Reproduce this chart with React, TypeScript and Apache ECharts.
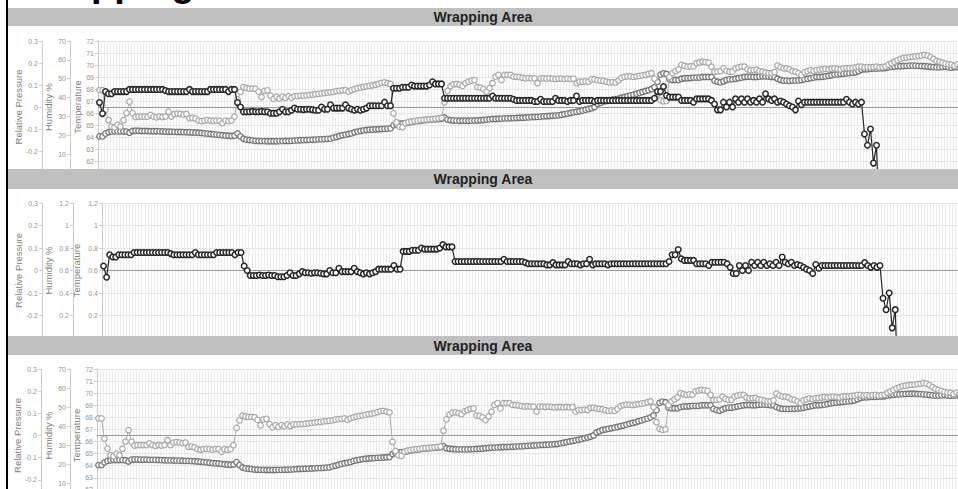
import React, { useEffect, useRef } from "react";
import * as echarts from "echarts";

// ---------- data ----------
const pageTitle = "Wrapping Area";
const panelTitles = ["Wrapping Area", "Wrapping Area", "Wrapping Area"];
const axisNames = { pressure: "Relative Pressure", humidity: "Humidity %", temperature: "Temperature" };

const temperature: number[] = [
  64.05, 64.05, 64.28, 64.4, 64.45, 64.47, 64.47, 64.47, 64.46, 64.45,
  64.35, 64.5, 64.52, 64.52, 64.5, 64.5, 64.5, 64.48, 64.48, 64.48,
  64.47, 64.46, 64.45, 64.44, 64.44, 64.43, 64.42, 64.42, 64.41, 64.4,
  64.4, 64.38, 64.37, 64.35, 64.33, 64.3, 64.28, 64.25, 64.22, 64.2,
  64.18, 64.15, 64.12, 64.1, 64.08, 64.1, 64.3, 64.05, 63.85, 63.78,
  63.75, 63.72, 63.68, 63.67, 63.66, 63.66, 63.65, 63.65, 63.65, 63.65,
  63.66, 63.66, 63.67, 63.67, 63.68, 63.7, 63.72, 63.73, 63.74, 63.75,
  63.76, 63.77, 63.78, 63.8, 63.8, 63.82, 63.84, 63.86, 63.95, 64.0,
  64.08, 64.15, 64.2, 64.25, 64.3, 64.4, 64.45, 64.5, 64.55, 64.58,
  64.6, 64.62, 64.63, 64.65, 64.67, 64.68, 64.7, 64.72, 64.97, 65.05,
  65.1, 65.12, 65.15, 65.2, 65.25, 65.3, 65.33, 65.35, 65.4, 65.42,
  65.45, 65.47, 65.48, 65.5, 65.52, 65.62, 65.45, 65.4, 65.38, 65.36,
  65.35, 65.35, 65.35, 65.35, 65.36, 65.37, 65.38, 65.4, 65.42, 65.45,
  65.47, 65.5, 65.5, 65.52, 65.53, 65.55, 65.55, 65.56, 65.57, 65.58,
  65.6, 65.6, 65.62, 65.64, 65.66, 65.67, 65.68, 65.7, 65.72, 65.73,
  65.75, 65.77, 65.78, 65.8, 65.85, 65.9, 65.95, 66.0, 66.05, 66.1,
  66.15, 66.2, 66.27, 66.33, 66.4, 66.5, 66.75, 66.85, 66.95, 67.0,
  67.05, 67.1, 67.15, 67.2, 67.27, 67.33, 67.4, 67.47, 67.53, 67.6,
  67.68, 67.75, 67.83, 67.9, 68.0, 68.15, 68.6, 69.2, 69.3, 69.25,
  68.8, 68.75, 68.75, 68.75, 68.85, 68.9, 68.9, 68.92, 68.95, 68.95,
  68.95, 69.0, 69.0, 69.0, 69.0, 68.7, 68.6, 68.55, 68.65, 68.75,
  68.8, 68.8, 68.85, 68.9, 68.95, 69.0, 69.02, 69.02, 69.0, 69.0,
  69.03, 69.05, 69.05, 69.03, 69.0, 69.0, 68.85, 68.75, 68.7, 68.7,
  68.68, 68.7, 68.7, 68.72, 68.75, 68.8, 68.85, 68.9, 68.95, 69.0,
  69.0, 69.02, 69.05, 69.1, 69.15, 69.2, 69.22, 69.25, 69.27, 69.3,
  69.32, 69.35, 69.4, 69.5, 69.6, 69.65, 69.65, 69.68, 69.7, 69.7,
  69.72, 69.72, 69.75, 69.8, 69.85, 69.87, 69.9, 69.9, 69.92, 69.93,
  69.95, 69.95, 69.95, 69.93, 69.92, 69.9, 69.88, 69.85, 69.82, 69.8,
  69.8, 69.82, 69.85, 69.8, 69.78, 69.8, 69.82, 69.8, 69.8, 69.8,
];

const humidity: number[] = [
  44.0, 44.0, 33.4, 28.1, 24.6, 24.2, 25.5, 24.6, 28.0, 31.8,
  37.8, 31.8, 29.7, 29.9, 29.9, 29.9, 29.9, 30.8, 29.9, 29.5,
  30.0, 29.7, 29.9, 32.5, 29.9, 31.3, 31.5, 31.3, 31.0, 31.3,
  29.0, 29.2, 28.8, 27.8, 27.5, 27.8, 28.0, 27.8, 27.6, 27.8,
  27.8, 26.4, 27.8, 27.5, 27.8, 29.9, 39.0, 43.0, 45.5, 45.0,
  44.8, 44.8, 44.6, 43.2, 40.3, 43.5, 43.8, 41.0, 39.3, 40.5,
  39.5, 40.5, 39.8, 40.8, 40.0, 40.8, 40.8, 41.0, 41.0, 41.2,
  41.4, 41.6, 41.8, 42.0, 42.2, 42.4, 42.6, 42.8, 43.0, 43.4,
  43.6, 43.8, 44.0, 43.2, 44.0, 44.5, 45.0, 45.3, 45.6, 45.9,
  46.2, 46.5, 46.8, 47.3, 47.8, 48.0, 47.6, 47.2, 31.6, 26.9,
  24.5, 24.3, 26.5, 27.0, 27.3, 27.6, 27.8, 28.0, 28.2, 28.3,
  28.5, 28.6, 28.8, 29.0, 29.2, 37.5, 43.5, 46.0, 47.0, 47.2,
  46.8, 46.2, 47.7, 48.4, 49.0, 49.3, 45.5, 45.3, 44.5, 43.1,
  45.0, 47.6, 51.1, 52.0, 49.3, 52.0, 52.0, 52.0, 51.1, 51.0,
  50.8, 50.5, 50.2, 50.4, 50.2, 50.2, 47.6, 50.2, 50.2, 50.0,
  50.2, 50.0, 49.8, 50.0, 50.0, 49.8, 50.0, 49.8, 50.0, 47.6,
  48.4, 48.4, 48.6, 48.4, 49.6, 49.6, 49.2, 49.0, 48.8, 48.4,
  48.0, 48.2, 48.0, 49.0, 50.5, 51.0, 51.2, 51.2, 51.0, 51.2,
  51.5, 51.8, 52.0, 52.5, 52.9, 50.0, 42.0, 38.5, 38.0, 38.2,
  51.0, 53.0, 54.0, 55.0, 57.3, 56.8, 56.4, 56.6, 56.5, 58.2,
  58.6, 59.0, 58.8, 58.5, 56.4, 53.7, 53.8, 54.0, 55.5, 54.2,
  53.7, 53.8, 55.5, 56.0, 56.4, 56.4, 55.0, 54.6, 54.6, 54.8,
  54.0, 53.7, 53.3, 53.0, 53.0, 53.5, 57.0, 56.0, 55.5, 55.5,
  55.0, 54.0, 53.7, 53.0, 52.0, 53.5, 54.0, 54.5, 54.2, 54.6,
  54.8, 55.0, 55.2, 55.0, 55.3, 55.5, 55.2, 55.0, 55.5, 55.6,
  55.6, 55.8, 56.0, 56.4, 56.4, 56.0, 56.2, 56.0, 56.2, 56.4,
  56.0, 56.2, 56.5, 57.5, 58.2, 59.0, 59.8, 60.5, 61.0, 61.2,
  61.5, 61.6, 61.8, 62.0, 62.2, 62.6, 62.3, 61.5, 60.5, 59.5,
  59.0, 58.5, 58.0, 57.6, 57.5, 56.8, 57.6, 57.0, 57.2, 57.0,
];

const pressure: (number | null)[] = [
  0.02, -0.03, 0.07, 0.06, 0.06, 0.07, 0.07, 0.07, 0.07, 0.07,
  0.08, 0.08, 0.08, 0.08, 0.08, 0.08, 0.08, 0.08, 0.08, 0.08,
  0.08, 0.08, 0.075, 0.07, 0.07, 0.07, 0.07, 0.07, 0.07, 0.07,
  0.08, 0.07, 0.07, 0.07, 0.07, 0.07, 0.07, 0.08, 0.08, 0.08,
  0.08, 0.08, 0.08, 0.07, 0.08, 0.08, 0.02, 0.0, -0.022, -0.022,
  -0.022, -0.02, -0.022, -0.022, -0.02, -0.022, -0.022, -0.028, -0.028, -0.028,
  -0.022, -0.01, -0.022, -0.022, -0.015, -0.005, -0.01, -0.01, -0.012, -0.01,
  -0.01, -0.012, -0.015, -0.015, 0.0, -0.01, -0.01, 0.01, -0.005, -0.005,
  -0.005, -0.005, 0.01, -0.005, -0.01, -0.015, -0.01, -0.015, -0.01, -0.005,
  0.006, 0.006, 0.006, 0.006, 0.006, 0.022, 0.006, 0.006, 0.085, 0.085,
  0.085, 0.09, 0.09, 0.09, 0.1, 0.095, 0.095, 0.095, 0.095, 0.095,
  0.1, 0.115, 0.105, 0.105, 0.105, 0.04, 0.04, 0.04, 0.04, 0.04,
  0.04, 0.04, 0.04, 0.04, 0.04, 0.04, 0.04, 0.04, 0.04, 0.04,
  0.04, 0.05, 0.04, 0.04, 0.04, 0.04, 0.04, 0.04, 0.035, 0.03,
  0.03, 0.03, 0.03, 0.03, 0.03, 0.025, 0.025, 0.035, 0.025, 0.025,
  0.025, 0.025, 0.04, 0.03, 0.03, 0.03, 0.025, 0.03, 0.03, 0.05,
  0.025, 0.03, 0.03, 0.03, 0.03, 0.025, 0.03, 0.03, 0.03, 0.03,
  0.03, 0.03, 0.03, 0.03, 0.03, 0.03, 0.03, 0.03, 0.03, 0.03,
  0.03, 0.03, 0.03, 0.03, 0.03, 0.04, 0.07, 0.07, 0.093, 0.052,
  0.045, 0.045, 0.045, 0.045, 0.03, 0.03, 0.03, 0.03, 0.022, 0.037,
  0.037, 0.037, 0.037, 0.037, 0.03, 0.014, -0.013, -0.013, 0.022, 0.0,
  0.022, 0.0, 0.037, 0.022, 0.037, 0.022, 0.037, 0.022, 0.03, 0.022,
  0.037, 0.022, 0.06, 0.037, 0.03, 0.037, 0.022, 0.027, 0.022, 0.014,
  0.006, 0.0, -0.013, 0.027, 0.01, 0.022, 0.022, 0.022, 0.022, 0.022,
  0.022, 0.022, 0.022, 0.022, 0.022, 0.022, 0.022, 0.022, 0.022, 0.035,
  0.022, 0.014, 0.022, 0.014, 0.022, -0.123, -0.174, -0.1, -0.255, -0.174,
  -0.6, null, null, null, null, null, null, null, null, null,
  null, null, null, null, null, null, null, null, null, null,
  null, null, null, null, null, null, null, null, null, null,
];

const categories: string[] = temperature.map((_, i) => String(i + 1));

const pressureRange = { min: -0.3, max: 0.3, interval: 0.1 };
const climateHumRange = { min: 0, max: 70, interval: 10 };
const climateTempRange = { min: 61, max: 72, interval: 1 };
const emptyRange = { min: 0, max: 1.2, interval: 0.2 };

export default function App() {
  const ref = useRef<HTMLDivElement>(null);
  useEffect(() => {
    if (!ref.current) return;
    const chart = echarts.init(ref.current, undefined, { renderer: "svg" });
    const font = '"Liberation Sans", Arial, sans-serif';

    const grids = [
      { left: 98, top: 41, width: 870, height: 132 },
      { left: 102, top: 203, width: 886.5, height: 135 },
      { left: 97, top: 369, width: 870, height: 133 },
    ];
    const humOffsets = [28, 29, 27];
    const presOffsets = [56, 60, 56];
    const humGaps = [17, 20, 17];
    const tempGaps = [16, 21, 16];
    const ranges = [
      { hum: climateHumRange, temp: climateTempRange },
      { hum: emptyRange, temp: emptyRange },
      { hum: climateHumRange, temp: climateTempRange },
    ];

    const yAxis: any[] = [];
    const xAxis: any[] = [];
    const mkY = (gridIndex: number, offset: number, name: string, nameGap: number, r: any, split: boolean) => ({
      type: "value",
      gridIndex,
      position: "left",
      offset,
      min: r.min,
      max: r.max,
      interval: r.interval,
      name,
      nameLocation: "middle",
      nameGap,
      nameRotate: 90,
      nameMoveOverlap: false,
      nameTextStyle: { color: "#808080", fontSize: 9.5, fontFamily: font },
      axisLine: { show: true, lineStyle: { color: "#cccccc", width: 1 } },
      axisTick: { show: true, length: 3, lineStyle: { color: "#cccccc" } },
      axisLabel: { color: "#959595", fontSize: 7, margin: 4, fontFamily: font },
      splitLine: { show: split, lineStyle: { color: "#e2e2e2", width: 1 } },
    });

    grids.forEach((g, k) => {
      yAxis.push(mkY(k, 0, axisNames.temperature, tempGaps[k], ranges[k].temp, true));
      yAxis.push(mkY(k, humOffsets[k], axisNames.humidity, humGaps[k], ranges[k].hum, false));
      yAxis.push(mkY(k, presOffsets[k], axisNames.pressure, 19, pressureRange, false));
      xAxis.push({
        type: "category",
        gridIndex: k,
        data: categories,
        boundaryGap: true,
        axisLine: { show: true, onZero: true, onZeroAxisIndex: 3 * k + 2, lineStyle: { color: "#999999", width: 1 } },
        axisTick: { show: false },
        axisLabel: { show: false },
        splitLine: { show: true, interval: 0, lineStyle: { color: "#ececec", width: 1 } },
      });
    });

    const mkSeries = (data: any[], xi: number, yi: number, line: string, border: string, lw: number, bw: number, z: number) => ({
      type: "line",
      data,
      xAxisIndex: xi,
      yAxisIndex: yi,
      symbol: "circle",
      symbolSize: 5.5,
      showSymbol: true,
      showAllSymbol: true,
      connectNulls: false,
      silent: true,
      z,
      lineStyle: { color: line, width: lw },
      itemStyle: { color: "#ffffff", borderColor: border, borderWidth: bw },
      emphasis: { disabled: true },
    });

    const series = [
      mkSeries(temperature, 0, 0, "#7a7a7a", "#747474", 1, 1.3, 3),
      mkSeries(humidity, 0, 1, "#ababab", "#a6a6a6", 1, 1.2, 4),
      mkSeries(pressure, 0, 2, "#262626", "#262626", 1.2, 1.5, 5),
      mkSeries(pressure, 1, 5, "#262626", "#262626", 1.2, 1.5, 5),
      mkSeries(temperature, 2, 6, "#7a7a7a", "#747474", 1, 1.3, 3),
      mkSeries(humidity, 2, 7, "#ababab", "#a6a6a6", 1, 1.2, 4),
    ];

    const headers = [
      { y: 8, h: 18 },
      { y: 169, h: 20 },
      { y: 336, h: 19 },
    ];
    const graphic: any[] = [
      {
        type: "text",
        x: 20,
        y: 1.5,
        z: 100,
        style: {
          text: pageTitle,
          fontFamily: font,
          fontSize: 38,
          fontWeight: "bold",
          fill: "#000",
          align: "left",
          verticalAlign: "bottom",
        },
      },
      { type: "rect", z: 100, shape: { x: 6, y: 0, width: 2, height: 489 }, style: { fill: "#000" } },
    ];
    headers.forEach((h, k) => {
      graphic.push({ type: "rect", z: 100, shape: { x: 8, y: h.y, width: 960, height: h.h }, style: { fill: "#c0c0c0" } });
      graphic.push({
        type: "text",
        z: 101,
        x: 483,
        y: h.y + h.h / 2,
        style: {
          text: panelTitles[k],
          fontFamily: font,
          fontSize: 14,
          fontWeight: "bold",
          fill: "#222",
          align: "center",
          verticalAlign: "middle",
        },
      });
    });

    chart.setOption({
      animation: false,
      backgroundColor: "#ffffff",
      textStyle: { fontFamily: font },
      grid: grids.map((g) => ({ ...g, containLabel: false, outerBoundsMode: "none", show: false })),
      xAxis,
      yAxis,
      series,
      graphic,
    });
    return () => chart.dispose();
  }, []);
  return <div ref={ref} style={{ position: "absolute", left: 0, top: 0, width: 958, height: 489 }} />;
}
